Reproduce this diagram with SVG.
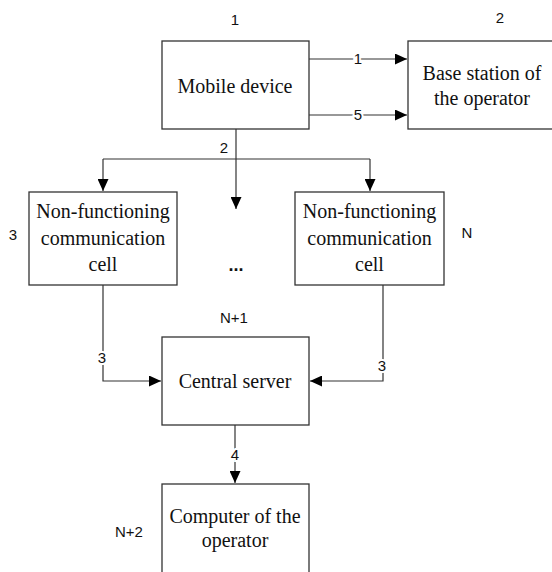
<svg xmlns="http://www.w3.org/2000/svg" width="552" height="572" viewBox="0 0 552 572">
<style>
.box{fill:#fff;stroke:#333;stroke-width:1.3}
.t{font-family:"Liberation Serif","Times New Roman",serif;font-size:20px;fill:#111;text-anchor:middle}
.n{font-family:"Liberation Sans",Arial,sans-serif;font-size:15px;fill:#111;text-anchor:middle}
.lb{font-family:"Liberation Sans",Arial,sans-serif;font-size:15px;fill:#111;text-anchor:middle;stroke:#fff;stroke-width:4;paint-order:stroke}
.c{fill:none;stroke:#333;stroke-width:1.2}
</style>
<defs>
<marker id="ah" markerWidth="12" markerHeight="11" refX="12" refY="5.500" orient="auto" markerUnits="userSpaceOnUse">
<path d="M0,0 L12,5.500 L0,11 Z" fill="#000"/>
</marker>
</defs>
<rect width="552" height="572" fill="#fff"/>
<g id="connectors">
<path class="c" d="M309,59 H407" marker-end="url(#ah)"/>
<path class="c" d="M309,115 H407" marker-end="url(#ah)"/>
<path class="c" d="M236,129 V209" marker-end="url(#ah)"/>
<path class="c" d="M103,159 H370"/>
<path class="c" d="M103,159 V191" marker-end="url(#ah)"/>
<path class="c" d="M370,159 V191" marker-end="url(#ah)"/>
<path class="c" d="M103,285 V381 H161" marker-end="url(#ah)"/>
<path class="c" d="M383,285 V381 H310" marker-end="url(#ah)"/>
<path class="c" d="M235,425 V483" marker-end="url(#ah)"/>
<text class="lb" x="358" y="64">1</text>
<text class="lb" x="358" y="120">5</text>
<text class="n" x="224" y="153">2</text>
<text class="lb" x="102" y="363">3</text>
<text class="lb" x="382" y="371">3</text>
<text class="lb" x="235" y="460">4</text>
</g>
<g id="mobile">
<rect class="box" x="162" y="41" width="147" height="88"/>
<text class="t" x="235" y="93">Mobile device</text>
<text class="n" x="235" y="25">1</text>
</g>
<g id="base">
<rect class="box" x="408" y="41" width="160" height="88"/>
<text class="t" x="482" y="80">Base station of</text>
<text class="t" x="482" y="105">the operator</text>
<text class="n" x="500" y="23">2</text>
</g>
<g id="cell3">
<rect class="box" x="29" y="192" width="148" height="93"/>
<text class="t" x="103" y="218">Non-functioning</text>
<text class="t" x="103" y="245">communication</text>
<text class="t" x="103" y="271">cell</text>
<text class="n" x="13" y="240">3</text>
</g>
<g id="dots">
<text x="236" y="271" style="font-family:'Liberation Sans',Arial,sans-serif;font-size:18px;font-weight:bold;text-anchor:middle;fill:#111">...</text>
</g>
<g id="cellN">
<rect class="box" x="295" y="192" width="149" height="93"/>
<text class="t" x="369.500" y="218">Non-functioning</text>
<text class="t" x="369.500" y="245">communication</text>
<text class="t" x="369.500" y="271">cell</text>
<text class="n" x="467" y="238">N</text>
</g>
<g id="server">
<rect class="box" x="162" y="337" width="147" height="88"/>
<text class="t" x="235" y="388">Central server</text>
<text class="n" x="234" y="323">N+1</text>
</g>
<g id="computer">
<rect class="box" x="162" y="484" width="147" height="120"/>
<text class="t" x="235" y="523">Computer of the</text>
<text class="t" x="235" y="547">operator</text>
<text class="n" x="129" y="537">N+2</text>
</g>
</svg>
